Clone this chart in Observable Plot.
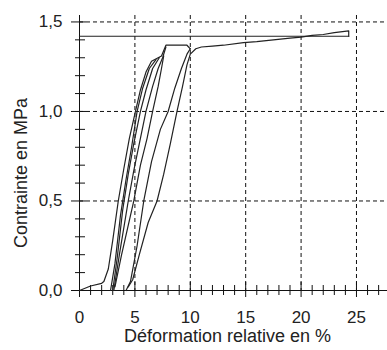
<!DOCTYPE html>
<html>
<head>
<meta charset="utf-8">
<script src="https://cdn.jsdelivr.net/npm/d3@7"></script>
<script src="https://cdn.jsdelivr.net/npm/@observablehq/plot@0.6"></script>
<style>
  html, body { margin: 0; padding: 0; background: #fff; }
  #chart svg { display: block; }
</style>
</head>
<body>
<div id="chart"></div>
<script>
// Curves: [strain %, stress MPa]
const curve1 = [[0,0],[1,0.025],[2,0.04],[2.2,0.05],[2.6,0.12],[3.0,0.28],[3.5,0.5],[4.0,0.68],[4.5,0.85],[5.05,1.0],[5.5,1.12],[6.0,1.22],[6.5,1.28],[7.1,1.3],[7.4,1.31],[7.8,1.37],[9.7,1.37],[10.0,1.35]];
const curve2 = [[2.8,0],[3.2,0.15],[3.7,0.42],[4.2,0.62],[4.7,0.8],[5.2,1.0],[5.7,1.13],[6.3,1.24],[6.9,1.29]];
const curve3 = [[3.0,0],[3.4,0.18],[3.9,0.45],[4.4,0.65],[4.9,0.82],[5.5,1.0],[6.0,1.12],[6.6,1.24],[7.2,1.3]];
const curve4 = [[3.1,0],[3.6,0.2],[4.4,0.5],[4.9,0.67],[5.4,0.82],[6.0,1.0],[6.6,1.14],[7.1,1.24],[7.5,1.3],[7.8,1.36]];
const curve5 = [[3.2,0.02],[3.8,0.2],[4.9,0.5],[5.5,0.7],[6.1,0.85],[6.6,1.0],[7.1,1.14],[7.4,1.24],[7.6,1.31]];
const curve6 = [[4.2,0],[4.6,0.05],[5.2,0.25],[5.8,0.5],[6.5,0.72],[7.3,0.9],[8.0,1.0],[8.6,1.13],[9.2,1.24],[9.7,1.32],[10.0,1.35]];
const curve7 = [[4.4,0.02],[4.8,0.06],[5.4,0.2],[6.2,0.38],[7.0,0.5],[7.6,0.65],[8.2,0.82],[8.8,1.0],[9.3,1.14],[9.7,1.26],[10.0,1.32],[10.5,1.35],[11,1.36],[12,1.365],[13,1.37],[14.8,1.385],[16,1.39],[17.5,1.4],[19,1.41],[20,1.415],[21,1.425],[22,1.43],[23,1.44],[24.3,1.45],[24.3,1.42]];
const refLine = [[0,1.42],[24.3,1.42]];

const xMajor = [0,5,10,15,20,25];
const xMinor = [1,2,3,4,6,7,8,9,11,12,13,14,16,17,18,19,21,22,23,24,26,27];
const yMajor = [0,0.5,1.0,1.5];
const yMajorLabels = ["0,0","0,5","1,0","1,5"];
const yMinor = [0.1,0.2,0.3,0.4,0.6,0.7,0.8,0.9,1.1,1.2,1.3,1.4];
const xGrid = [5,10,15,20,25];
const yGrid = [0.5,1.0,1.5];
const xLabel = "Déformation relative en %";
const yLabel = "Contrainte en MPa";

const curves = [curve1, curve2, curve3, curve4, curve5, curve6, curve7, refLine];
const table = curves.flatMap((c, k) => c.map(([x, y]) => ({x, y, k})));
const yFmt = d => yMajorLabels[yMajor.indexOf(d)];

const W = 387, H = 350, ML = 79, MR = 0, MT = 15, MB = 60;
const FW = W - ML - MR, FH = H - MT - MB;
const font = "'Liberation Sans', Arial, sans-serif";

const chart = Plot.plot({
  width: W,
  height: H,
  marginLeft: ML,
  marginRight: MR,
  marginTop: MT,
  marginBottom: MB,
  style: {fontFamily: font, fontSize: "17px", color: "#222", background: "#fff"},
  x: {domain: [0, 27.8], axis: null},
  y: {domain: [0, 1.536], axis: null},
  marks: [
    Plot.gridX(xGrid, {stroke: "#111", strokeOpacity: 1, strokeDasharray: "4,3"}),
    Plot.gridY(yGrid, {stroke: "#111", strokeOpacity: 1, strokeDasharray: "4,3"}),
    Plot.ruleX([0], {stroke: "#111"}),
    Plot.ruleY([0], {stroke: "#111"}),
    // crossing ticks (pixel insets relative to the frame)
    Plot.tickX(xMajor, {x: d => d, insetTop: FH - 8, insetBottom: -7, stroke: "#111"}),
    Plot.tickX(xMinor, {x: d => d, insetTop: FH - 5, insetBottom: -5, stroke: "#111"}),
    Plot.tickY(yMajor, {y: d => d, insetLeft: -8, insetRight: FW - 7, stroke: "#111"}),
    Plot.tickY(yMinor, {y: d => d, insetLeft: -4, insetRight: FW - 6, stroke: "#111"}),
    // tick labels
    Plot.axisY(yMajor, {anchor: "left", tickSize: 0, tickPadding: 17, tickFormat: yFmt, label: null, fill: "#222", fontSize: 17}),
    Plot.axisX(xMajor, {anchor: "bottom", tickSize: 0, tickPadding: 20, label: null, fill: "#222", fontSize: 17}),
    Plot.line(table, {x: "x", y: "y", z: "k", stroke: "#222", strokeWidth: 1.2}),
    Plot.text([xLabel], {frameAnchor: "bottom", text: d => d, textAnchor: "middle", dx: -6, dy: 46, lineAnchor: "middle", fontSize: 18, fill: "#222"}),
    Plot.text([yLabel], {frameAnchor: "left", text: d => d, textAnchor: "middle", rotate: -90, dx: -58, dy: 20, lineAnchor: "middle", fontSize: 18, fill: "#222"})
  ]
});
document.getElementById("chart").appendChild(chart);
</script>
</body>
</html>
